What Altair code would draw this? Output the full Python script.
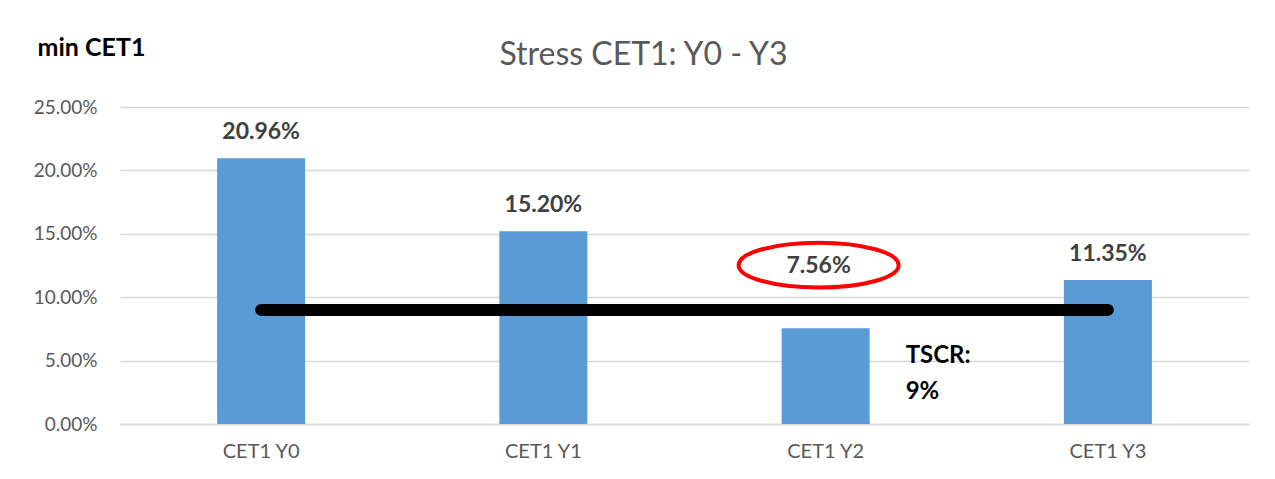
import altair as alt
import pandas as pd

categories = ["CET1 Y0", "CET1 Y1", "CET1 Y2", "CET1 Y3"]
cet1 = [0.2096, 0.1520, 0.0756, 0.1135]
tscr = 0.09
tscr_label = "TSCR:\n9%"
highlight = "CET1 Y2"
y_ticks = [0, 0.05, 0.10, 0.15, 0.20, 0.25]

df = pd.DataFrame({"cat": categories, "value": cet1})

FONT = "Lato"
GREY = "#595959"
GRID = "#D9D9D9"
BLUE = "#5B9BD5"

x_enc = alt.X(
    "cat:N",
    sort=categories,
    scale=alt.Scale(paddingInner=0, paddingOuter=0),
    axis=alt.Axis(
        title=None, labelAngle=0, ticks=False, tickSize=0, domain=True,
        domainColor=GRID, domainWidth=1.5, labelFont=FONT, labelFontSize=20,
        labelColor=GREY, labelPadding=17, grid=False,
    ),
)
y_enc = alt.Y(
    "value:Q",
    scale=alt.Scale(domain=[0, 0.25], nice=False),
    axis=alt.Axis(
        values=y_ticks, format=".2%", title="min CET1", titleAngle=0,
        titleAlign="left", titleBaseline="alphabetic", titleX=-83, titleY=-52,
        titleFont=FONT, titleFontSize=25, titleFontWeight="bold", titleColor="black",
        labelFont=FONT, labelFontSize=19, labelColor=GREY, labelPadding=23,
        domain=False, ticks=False, tickSize=0, grid=True, gridColor=GRID, gridWidth=1.5,
    ),
)

base = alt.Chart(df)

bars = base.mark_bar(size=88, color=BLUE).encode(x=x_enc, y=y_enc)

labels = base.transform_filter(alt.datum.cat != highlight).mark_text(
    font=FONT, fontSize=23, fontWeight="bold", color="#404040",
    baseline="alphabetic", dy=-19,
).encode(x="cat:N", y="value:Q", text=alt.Text("value:Q", format=".2%"))

hl_label = base.transform_filter(alt.datum.cat == highlight).mark_text(
    font=FONT, fontSize=23, fontWeight="bold", color="#404040",
    baseline="alphabetic", dx=-7, dy=-55,
).encode(x="cat:N", y="value:Q", text=alt.Text("value:Q", format=".2%"))

ellipse = base.transform_filter(alt.datum.cat == highlight).mark_point(
    shape="M -1.0875 -0.7875 A 1 0.28 0 1 0 0.9125 -0.7875 A 1 0.28 0 1 0 -1.0875 -0.7875 Z",
    size=160 * 160, filled=False, stroke="#FF0000", strokeWidth=4, opacity=1,
).encode(x="cat:N", y="value:Q")

rule = alt.Chart(pd.DataFrame({"a": [0]})).mark_rule(
    color="black", strokeWidth=12, strokeCap="round",
).encode(
    x=alt.datum(categories[0]), x2=alt.datum(categories[-1]), y=alt.datum(tscr),
)

tscr_text = alt.Chart(pd.DataFrame({"a": [0]})).mark_text(
    font=FONT, fontSize=24, fontWeight="bold", color="black", align="left",
    baseline="alphabetic", dx=80, dy=53, lineHeight=36, lineBreak="\n",
).encode(x=alt.datum(highlight), y=alt.datum(tscr), text=alt.value(tscr_label))

chart = alt.layer(bars, rule, labels, hl_label, ellipse, tscr_text).properties(
    width=1129,
    height=317,
    title=alt.TitleParams(
        "Stress CET1: Y0 - Y3", font=FONT, fontSize=32, fontWeight="normal",
        color=GREY, anchor="middle", dx=-41, offset=-62, baseline="alphabetic",
    ),
    autosize=alt.AutoSizeParams(type="none"),
    padding={"left": 112, "top": 99, "right": 10, "bottom": 50},
    background="white",
).configure_view(stroke=None)

chart.save("out.html", embed_options={"renderer": "svg", "actions": False})
